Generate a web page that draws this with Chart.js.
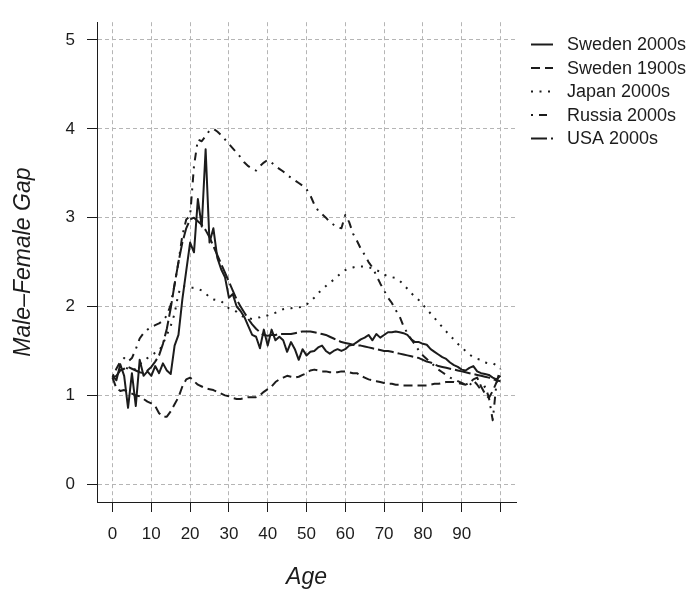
<!DOCTYPE html>
<html><head><meta charset="utf-8">
<script src="https://cdn.jsdelivr.net/npm/chart.js@4.4.1/dist/chart.umd.min.js"></script>
<style>html,body{margin:0;padding:0;background:#fff}#wrap{width:693px;height:598px;position:relative}</style>
</head><body><div id="wrap"><canvas id="c" width="693" height="598"></canvas></div>
<script>
const ages = [0,1,2,3,4,5,6,7,8,9,10,11,12,13,14,15,16,17,18,19,20,21,22,23,24,25,26,27,28,29,30,31,32,33,34,35,36,37,38,39,40,41,42,43,44,45,46,47,48,49,50,51,52,53,54,55,56,57,58,59,60,61,62,63,64,65,66,67,68,69,70,71,72,73,74,75,76,77,78,79,80,81,82,83,84,85,86,87,88,89,90,91,92,93,94,95,96,97,98,99,100];

const sweden2000s = [1.22,1.17,1.35,1.22,0.86,1.25,0.88,1.40,1.22,1.27,
1.22,1.33,1.25,1.36,1.28,1.24,1.56,1.68,2.08,2.40,
2.72,2.61,3.21,2.90,3.77,2.72,2.88,2.55,2.42,2.33,
2.10,2.14,2.00,1.95,1.88,1.78,1.68,1.66,1.53,1.74,
1.56,1.74,1.62,1.66,1.62,1.49,1.60,1.52,1.40,1.52,
1.45,1.49,1.50,1.54,1.56,1.50,1.47,1.50,1.52,1.50,
1.52,1.56,1.57,1.60,1.63,1.65,1.68,1.62,1.69,1.65,
1.68,1.71,1.71,1.72,1.71,1.70,1.68,1.63,1.60,1.60,
1.58,1.57,1.52,1.49,1.46,1.43,1.41,1.37,1.34,1.32,
1.29,1.28,1.31,1.33,1.27,1.25,1.24,1.23,1.20,1.18,1.22];

const sweden1900s = [1.20,1.08,1.05,1.06,1.04,1.02,1.00,0.99,0.96,0.93,
0.91,0.88,0.80,0.76,0.76,0.82,0.90,0.98,1.10,1.18,
1.20,1.16,1.12,1.10,1.08,1.07,1.06,1.04,1.02,1.00,
0.99,0.97,0.96,0.96,0.97,0.98,0.98,0.98,1.00,1.04,
1.07,1.10,1.15,1.18,1.20,1.22,1.21,1.20,1.21,1.23,
1.25,1.28,1.29,1.28,1.27,1.27,1.26,1.26,1.26,1.27,
1.27,1.26,1.25,1.25,1.22,1.20,1.18,1.17,1.16,1.15,
1.14,1.13,1.13,1.12,1.12,1.11,1.11,1.11,1.11,1.11,
1.11,1.11,1.12,1.13,1.13,1.14,1.15,1.15,1.15,1.14,
1.13,1.12,1.14,1.18,1.20,1.10,1.02,0.97,1.05,1.15,1.20];

const japan2000s = [1.22,1.25,1.30,1.32,1.30,1.28,1.30,1.35,1.38,1.42,
1.45,1.48,1.50,1.58,1.68,1.78,1.92,2.15,2.23,2.22,
2.21,2.21,2.20,2.18,2.15,2.10,2.08,2.07,2.06,2.02,
1.98,1.97,1.94,1.90,1.88,1.87,1.86,1.87,1.88,1.90,
1.90,1.92,1.93,1.95,1.97,1.98,1.98,1.99,1.99,2.00,
2.02,2.06,2.10,2.15,2.19,2.23,2.27,2.30,2.34,2.38,
2.41,2.43,2.44,2.45,2.45,2.45,2.44,2.43,2.41,2.39,
2.36,2.34,2.33,2.32,2.29,2.25,2.20,2.15,2.11,2.07,
2.02,1.97,1.92,1.87,1.82,1.77,1.72,1.67,1.63,1.58,
1.54,1.50,1.46,1.43,1.41,1.40,1.37,1.36,1.36,1.34,1.30];

const russia2000s = [1.20,1.30,1.38,1.42,1.38,1.42,1.52,1.64,1.70,1.74,
1.77,1.79,1.81,1.84,1.90,2.02,2.25,2.50,2.80,2.98,
3.02,3.58,3.88,3.86,3.92,3.98,4.00,3.97,3.93,3.88,
3.83,3.78,3.73,3.68,3.62,3.58,3.55,3.53,3.58,3.62,
3.65,3.62,3.58,3.55,3.52,3.48,3.45,3.42,3.39,3.36,
3.32,3.25,3.15,3.08,3.04,3.00,2.95,2.92,2.89,2.88,
3.03,2.95,2.82,2.74,2.65,2.58,2.50,2.44,2.35,2.26,
2.18,2.10,2.04,1.96,1.89,1.78,1.70,1.63,1.57,1.50,
1.45,1.41,1.37,1.33,1.29,1.26,1.23,1.20,1.18,1.16,
1.14,1.12,1.11,1.17,1.12,1.06,1.10,0.98,0.72,1.15,1.30];

const usa2000s = [1.20,1.22,1.28,1.30,1.32,1.30,1.28,1.26,1.25,1.28,
1.32,1.38,1.45,1.58,1.75,1.98,2.25,2.50,2.72,2.88,
2.98,3.00,2.96,2.92,2.86,2.78,2.68,2.58,2.48,2.38,
2.28,2.18,2.08,2.00,1.93,1.86,1.80,1.75,1.71,1.68,
1.67,1.68,1.68,1.69,1.69,1.69,1.69,1.70,1.71,1.72,
1.72,1.72,1.71,1.70,1.69,1.68,1.66,1.64,1.62,1.60,
1.59,1.58,1.57,1.56,1.56,1.55,1.54,1.53,1.52,1.51,
1.50,1.50,1.49,1.48,1.47,1.46,1.45,1.44,1.43,1.42,
1.40,1.38,1.37,1.35,1.33,1.32,1.31,1.30,1.29,1.28,
1.27,1.26,1.25,1.24,1.23,1.22,1.21,1.20,1.18,1.17,1.16];

const seriesNames = ['Sweden 2000s','Sweden 1900s','Japan 2000s','Russia 2000s','USA 2000s'];
const xTicks = [0,10,20,30,40,50,60,70,80,90,100];
const xTickLabels = ['0','10','20','30','40','50','60','70','80','90',''];
const yTicks = [0,1,2,3,4,5];
const yTickLabels = ['0','1','2','3','4','5'];

const seriesValues = [sweden2000s, sweden1900s, japan2000s, russia2000s, usa2000s];
const dashes = [[], [9,5], [2,6.5], [2,6,8,6], [16,4]];
const lineColor = '#1c1c1c';
const FONT = '"Liberation Sans", Arial, Helvetica, sans-serif';

const datasets = seriesValues.map((vals, i) => ({
  label: seriesNames[i],
  data: ages.map((a, j) => ({x: a, y: vals[j]})),
  borderColor: lineColor,
  backgroundColor: lineColor,
  borderWidth: 2,
  borderDash: dashes[i],
  borderCapStyle: 'butt',
  borderJoinStyle: 'round',
  pointRadius: 0,
  tension: 0,
  fill: false
}));

const legendPlugin = {
  id: 'customLegend',
  afterDraw(chart) {
    const ctx = chart.ctx;
    const x0 = 531, x1 = 553, tx = 567;
    const rows = [44.5, 68, 91.5, 115, 138.5];
    ctx.save();
    ctx.font = '18px ' + FONT;
    ctx.textBaseline = 'middle';
    ctx.textAlign = 'left';
    chart.data.datasets.forEach((ds, i) => {
      const y = rows[i];
      ctx.strokeStyle = lineColor;
      ctx.lineWidth = 2;
      ctx.lineCap = 'butt';
      ctx.setLineDash(ds.borderDash);
      ctx.beginPath();
      ctx.moveTo(x0, y);
      ctx.lineTo(x1, y);
      ctx.stroke();
      ctx.setLineDash([]);
      ctx.fillStyle = '#1c1c1c';
      ctx.fillText(ds.label, tx, y + 1);
    });
    ctx.restore();
  }
};

new Chart(document.getElementById('c'), {
  type: 'line',
  data: {datasets},
  plugins: [legendPlugin],
  options: {
    responsive: false,
    devicePixelRatio: 1,
    animation: false,
    events: [],
    layout: {padding: {top: 4, right: 177, bottom: 0, left: 0}},
    plugins: {legend: {display: false}, tooltip: {enabled: false}},
    scales: {
      x: {
        type: 'linear',
        min: -4, max: 104,
        afterBuildTicks: s => { s.ticks = xTicks.map(v => ({value: v})); },
        afterFit: s => { s.height = 96; },
        ticks: {
          autoSkip: false, maxRotation: 0, padding: 12,
          color: '#1c1c1c',
          font: {family: FONT, size: 17},
          callback: (v) => { const k = xTicks.indexOf(v); return k >= 0 ? xTickLabels[k] : ''; }
        },
        grid: {
          color: '#b5b5b5', lineWidth: 1,
          tickLength: 10, tickColor: '#1c1c1c', tickWidth: 1, tickBorderDash: []
        },
        border: {display: true, color: '#1c1c1c', width: 1, dash: [4,3]},
        title: {
          display: true, text: 'Age', color: '#1c1c1c',
          font: {family: FONT, size: 23, style: 'italic'},
          padding: {top: 0, bottom: 7}
        }
      },
      y: {
        type: 'linear',
        min: -0.2, max: 5.2,
        afterBuildTicks: s => { s.ticks = yTicks.map(v => ({value: v})); },
        afterFit: s => { s.width = 97; },
        ticks: {
          autoSkip: false, padding: 12,
          color: '#1c1c1c',
          font: {family: FONT, size: 17},
          callback: (v) => { const k = yTicks.indexOf(v); return k >= 0 ? yTickLabels[k] : ''; }
        },
        grid: {
          color: '#b5b5b5', lineWidth: 1,
          tickLength: 10, tickColor: '#1c1c1c', tickWidth: 1, tickBorderDash: []
        },
        border: {display: true, color: '#1c1c1c', width: 1, dash: [4,3]},
        title: {
          display: true, text: 'Male–Female Gap', color: '#1c1c1c',
          font: {family: FONT, size: 23, style: 'italic'},
          padding: {top: 10, bottom: 0}
        }
      }
    }
  }
});
</script>
</body></html>
